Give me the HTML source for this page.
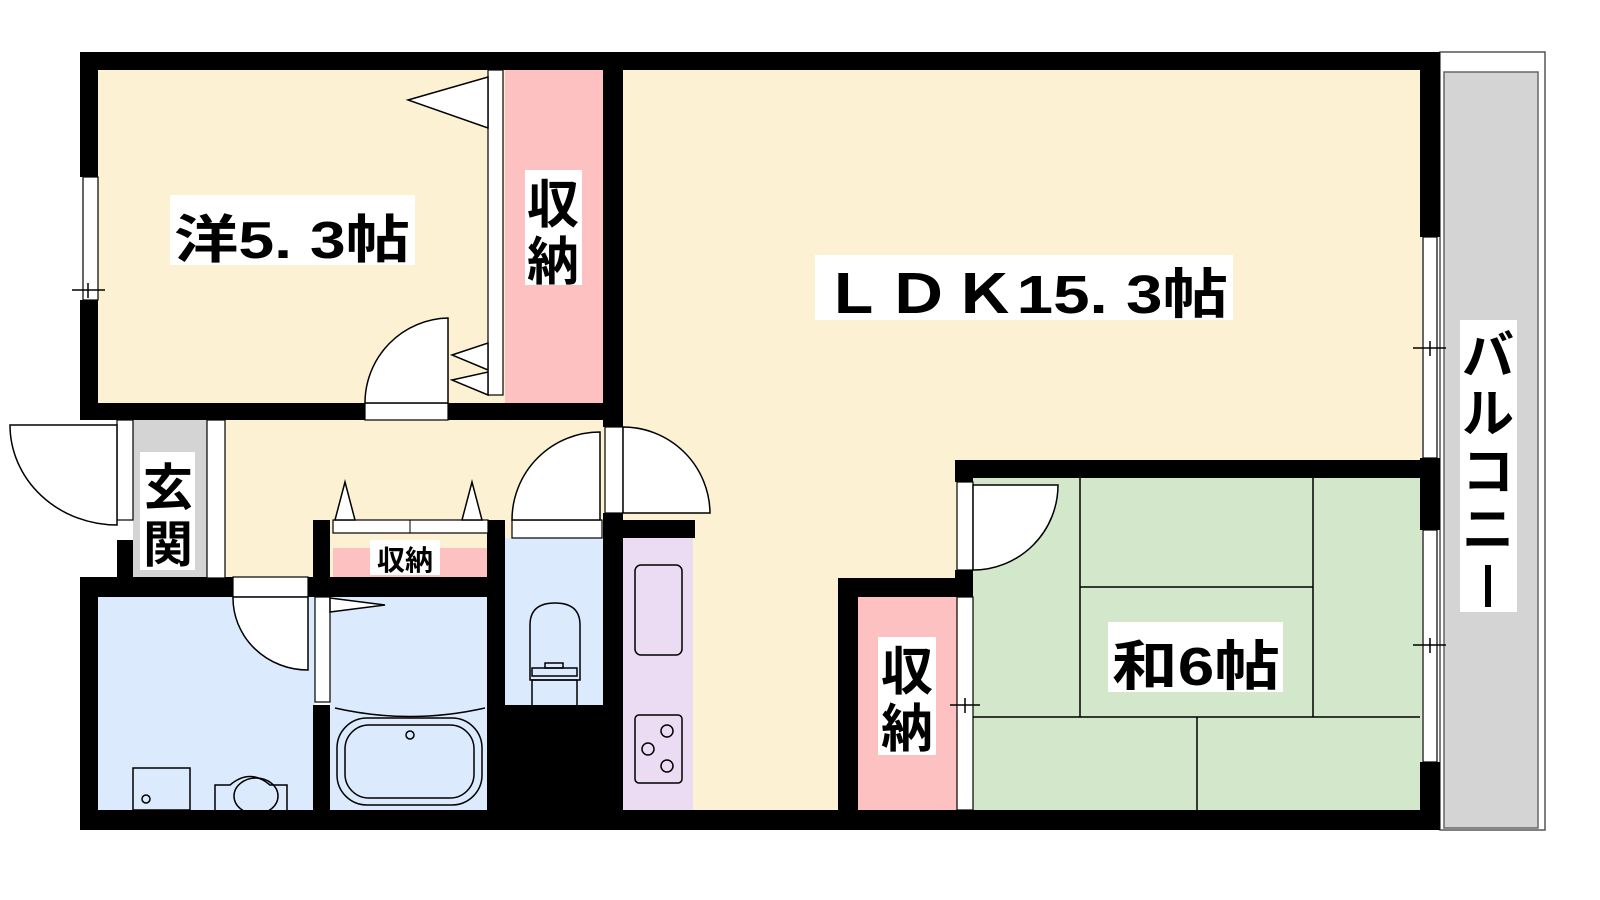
<!DOCTYPE html>
<html><head><meta charset="utf-8"><style>
html,body{margin:0;padding:0;background:#fff;width:1600px;height:900px;overflow:hidden}
svg{display:block}
text{font-family:"Liberation Sans","Noto Sans CJK JP",sans-serif;fill:#000;font-weight:bold}
</style></head><body>
<svg width="1600" height="900" viewBox="0 0 1600 900" xmlns="http://www.w3.org/2000/svg">
<rect x="1440" y="52" width="105" height="778" fill="#fff" stroke="#555" stroke-width="1.5"/>
<rect x="1444" y="72" width="94" height="756" fill="#d4d4d4" stroke="#666" stroke-width="1.5"/>
<rect x="98" y="70" width="410" height="335" fill="#fdf1d3"/>
<rect x="505" y="70" width="100" height="335" fill="#fdc1c1"/>
<rect x="620" y="70" width="802" height="745" fill="#fdf1d3"/>
<rect x="205" y="418" width="420" height="160" fill="#fdf1d3"/>
<rect x="133" y="420" width="74" height="158" fill="#d4d4d4"/>
<rect x="98" y="595" width="217" height="215" fill="#dbebfd"/>
<rect x="330" y="595" width="158" height="215" fill="#dbebfd"/>
<rect x="505" y="538" width="98" height="170" fill="#dbebfd"/>
<rect x="505" y="705" width="118" height="108" fill="#000"/>
<rect x="623" y="538" width="70" height="272" fill="#ebdcf3"/>
<rect x="333" y="548" width="155" height="30" fill="#fdc1c1"/>
<rect x="858" y="597" width="100" height="215" fill="#fdc1c1"/>
<rect x="973" y="478" width="449" height="334" fill="#d3e7cb"/>
<g stroke="#000" stroke-width="1.5" fill="none">
<line x1="1080" y1="478" x2="1080" y2="717"/>
<line x1="1313" y1="478" x2="1313" y2="717"/>
<line x1="1080" y1="587" x2="1313" y2="587"/>
<line x1="973" y1="717" x2="1420" y2="717"/>
<line x1="1197" y1="717" x2="1197" y2="810"/>
</g>
<g fill="#000">
<rect x="80" y="52" width="1360" height="18"/>
<rect x="80" y="52" width="18" height="125"/>
<rect x="80" y="300" width="18" height="120"/>
<rect x="80" y="403" width="285" height="17"/>
<rect x="448" y="403" width="175" height="17"/>
<rect x="603" y="52" width="20" height="375"/>
<rect x="1420" y="52" width="20" height="185"/>
<rect x="1420" y="458" width="20" height="72"/>
<rect x="1420" y="762" width="20" height="68"/>
<rect x="80" y="810" width="1360" height="20"/>
<rect x="955" y="460" width="485" height="18"/>
<rect x="955" y="460" width="18" height="22"/>
<rect x="955" y="570" width="18" height="27"/>
<rect x="838" y="578" width="135" height="19"/>
<rect x="838" y="578" width="20" height="240"/>
<rect x="117" y="540" width="16" height="40"/>
<rect x="80" y="577" width="153" height="20"/>
<rect x="308" y="577" width="197" height="20"/>
<rect x="313" y="520" width="17" height="60"/>
<rect x="313" y="705" width="17" height="110"/>
<rect x="80" y="577" width="18" height="253"/>
<rect x="487" y="520" width="18" height="295"/>
<rect x="603" y="513" width="20" height="300"/>
<rect x="603" y="520" width="92" height="18"/>
</g>
<g fill="#fff" stroke="#000" stroke-width="1.2">
<rect x="83" y="177" width="15" height="123"/>
<rect x="488" y="70" width="15" height="325"/>
<rect x="365" y="403" width="83" height="17"/>
<rect x="117" y="420" width="16" height="100"/>
<rect x="207" y="420" width="18" height="158"/>
<rect x="233" y="577" width="75" height="20"/>
<rect x="315" y="597" width="15" height="105"/>
<rect x="333" y="520" width="155" height="13"/>
<rect x="512" y="520" width="90" height="18"/>
<rect x="605" y="427" width="18" height="86"/>
<rect x="1423" y="237" width="14" height="221"/>
<rect x="1423" y="530" width="14" height="232"/>
<rect x="957" y="482" width="16" height="88"/>
<rect x="957" y="597" width="16" height="213"/>
</g>
<g fill="#fff" stroke="#000" stroke-width="1.5">
<path d="M448 318 A 85 85 0 0 0 365 403 L448 403 Z"/>
<path d="M10 425 A 107 100 0 0 0 117 525 L117 425 Z"/>
<path d="M233 597 A 75 72 0 0 0 308 670 L308 597 Z"/>
<path d="M600 432 A 88 88 0 0 0 512 520 L600 520 Z"/>
<path d="M623 427 A 87 87 0 0 1 710 513 L623 513 Z"/>
<path d="M973 485 L1058 485 A 85 85 0 0 1 973 570 Z"/>
<path d="M408 100 L488 77 L488 128 Z"/>
<path d="M452 355 L488 343 L488 370 Z"/>
<path d="M452 380 L488 372 L488 395 Z"/>
<path d="M330 598 L385 605 L330 612 Z"/>
<path d="M335 520 L345 482 L355 520 Z"/>
<path d="M462 520 L472 482 L482 520 Z"/>
</g>
<line x1="410" y1="520" x2="410" y2="533" stroke="#000"/>
<g fill="none" stroke="#000" stroke-width="1.5">
<rect x="133" y="768" width="57" height="42"/>
<circle cx="146" cy="799" r="4"/>
<path d="M215 810 V785 H230 Q250 768 270 785 H287 V810"/>
<ellipse cx="256" cy="796" rx="22" ry="18"/>
<path d="M335 708 Q410 725 485 708"/>
<rect x="337" y="718" width="145" height="87" rx="30"/>
<rect x="345" y="725" width="129" height="73" rx="24"/>
<circle cx="410" cy="735" r="4"/>
<path d="M530 680 V625 Q530 603 555 603 Q580 603 580 625 V680 Z"/>
<rect x="532" y="668" width="45" height="8"/>
<rect x="545" y="663" width="18" height="5"/>
<rect x="532" y="680" width="45" height="28"/>
<rect x="635" y="565" width="47" height="90" rx="6"/>
<rect x="635" y="715" width="47" height="68" rx="4"/>
<circle cx="667" cy="731" r="6"/><circle cx="648" cy="749" r="6"/><circle cx="667" cy="766" r="6"/>
<line x1="72" y1="290" x2="105" y2="290"/><line x1="88" y1="283" x2="88" y2="298"/>
<line x1="1413" y1="348" x2="1446" y2="348"/><line x1="1430" y1="341" x2="1430" y2="356"/>
<line x1="1413" y1="645" x2="1446" y2="645"/><line x1="1430" y1="638" x2="1430" y2="653"/>
<line x1="950" y1="705" x2="980" y2="705"/><line x1="965" y1="698" x2="965" y2="713"/>
</g>
<g fill="#fff">
<rect x="170" y="195" width="245" height="70"/>
<rect x="815" y="255" width="418" height="65"/>
<rect x="1108" y="622" width="175" height="70"/>
<rect x="525" y="170" width="57" height="115"/>
<rect x="878" y="637" width="58" height="118"/>
<rect x="1460" y="320" width="57" height="292"/>
<rect x="140" y="452" width="55" height="118"/>
<rect x="370" y="540" width="70" height="35"/>
</g>
<text x="174" y="258" font-size="52" textLength="236" lengthAdjust="spacingAndGlyphs">洋5. 3帖</text>
<text x="820" y="313" font-size="54" textLength="408" lengthAdjust="spacingAndGlyphs">ＬＤＫ15. 3帖</text>
<text x="1112" y="685" font-size="54" textLength="168" lengthAdjust="spacingAndGlyphs">和6帖</text>
<text x="553" y="223" font-size="52" text-anchor="middle">収</text>
<text x="553" y="280" font-size="52" text-anchor="middle">納</text>
<text x="907" y="690" font-size="52" text-anchor="middle">収</text>
<text x="907" y="747" font-size="52" text-anchor="middle">納</text>
<text x="168" y="505" font-size="50" text-anchor="middle">玄</text>
<text x="168" y="562" font-size="50" text-anchor="middle">関</text>
<text x="405" y="570" font-size="28" text-anchor="middle">収納</text>
<g font-size="52" text-anchor="middle">
<text x="1488" y="374">バ</text>
<text x="1488" y="432">ル</text>
<text x="1488" y="490">コ</text>
<text x="1488" y="548">ニ</text>
</g>
<rect x="1485" y="565" width="6" height="42" fill="#000"/>
</svg>
</body></html>
